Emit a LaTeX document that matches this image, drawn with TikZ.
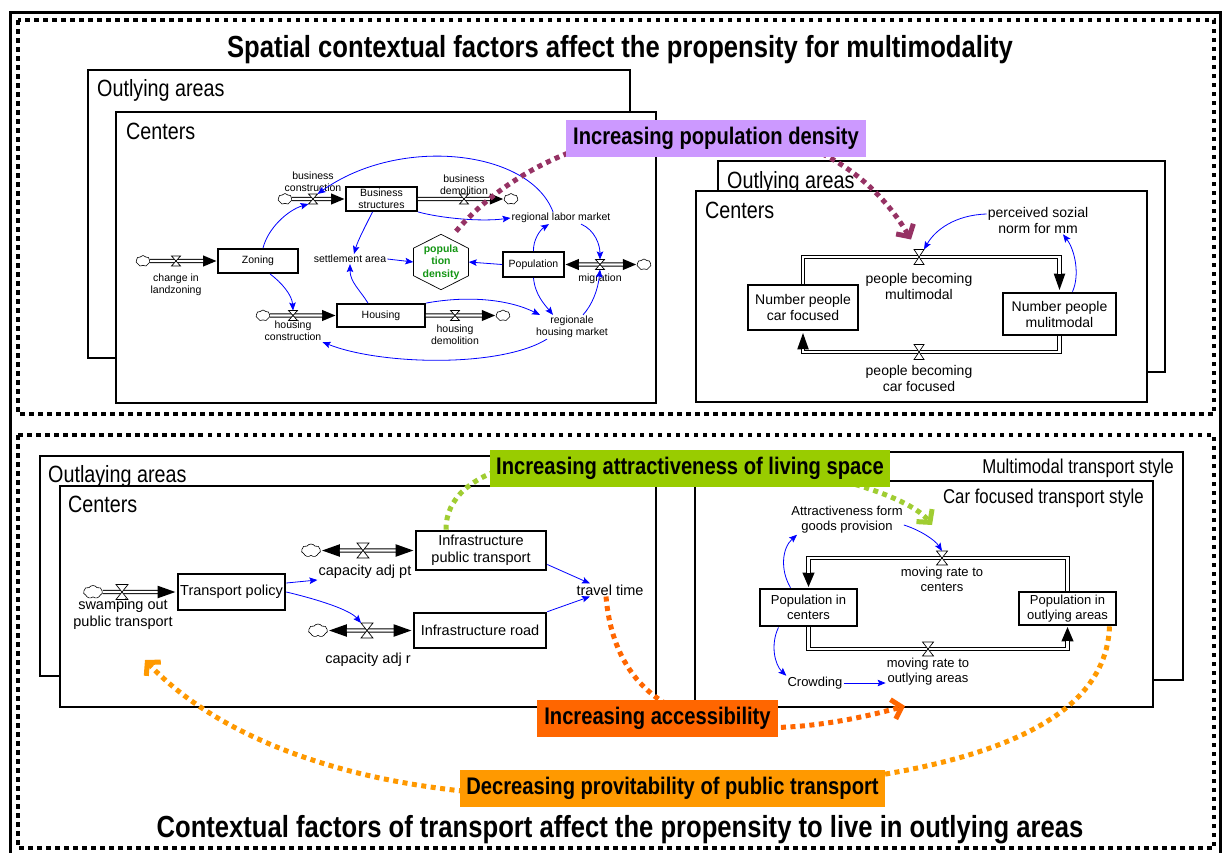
\documentclass[tikz,border=0pt]{standalone}
\usepackage{fontspec}
\setmainfont{Liberation Sans}
\newfontfamily\narrowfont[FakeStretch=0.84]{Liberation Sans}
\usetikzlibrary{arrows.meta,calc,shapes.symbols}

\definecolor{linkblue}{RGB}{0,0,255}
\definecolor{plum}{RGB}{150,50,100}
\definecolor{lilac}{RGB}{204,153,255}
\definecolor{limefill}{RGB}{153,204,0}
\definecolor{limedot}{RGB}{160,205,50}
\definecolor{deeporange}{RGB}{255,102,0}
\definecolor{amber}{RGB}{255,153,0}
\definecolor{densegreen}{RGB}{20,150,20}

% a stock-and-flow pipe: black outer stroke with its tip, white core on top
\newcommand\stockpipe[3]{%
  \draw[pipeout,#1] #3;
  \draw[pipein,#2] #3;}

\tikzset{
  pics/valve/.style 2 args={code={
    \draw[line width=0.7pt, fill=white, line join=miter]
      (-#1,-#2) -- (#1,-#2) -- (-#1,#2) -- (#1,#2) -- cycle;}},
  vnode/.style={inner sep=0pt, outer sep=0pt},
  pipeout/.style={line width=4.4pt, line join=miter, line cap=butt},
  pipein/.style={line width=2.2pt, white, line join=miter, line cap=butt},
  tlhead/.style={-{Triangle[length=14pt,width=10pt]}},
  tlboth/.style={{Triangle[length=14pt,width=10pt]}-{Triangle[length=14pt,width=10pt]}},
  trhead/.style={-{Triangle[length=18pt,width=10pt]}},
  blhead/.style={-{Triangle[length=19pt,width=11pt]}},
  blboth/.style={{Triangle[length=19pt,width=11pt]}-{Triangle[length=19pt,width=11pt]}},
  brhead/.style={-{Triangle[length=15pt,width=11pt]}},
  cloudy/.style={cloud, cloud puffs=7, cloud puff arc=110, aspect=1.3, draw,
    line width=0.6pt, fill=white, inner sep=0pt},
  areabox/.style={draw, line width=1.3pt, fill=white},
  centerbox/.style={draw, line width=2.3pt, fill=white},
  arealabel/.style={anchor=base west, inner sep=0pt,
    font=\narrowfont\fontsize{23.5}{26}\selectfont},
  stylelabel/.style={anchor=base east, inner sep=0pt,
    font=\narrowfont\fontsize{20}{22}\selectfont},
  titletext/.style={anchor=base, inner sep=0pt,
    font=\narrowfont\bfseries\fontsize{30.5}{33}\selectfont},
  hilite/.style={inner sep=0pt, minimum height=37pt,
    font=\narrowfont\bfseries\fontsize{24}{26}\selectfont},
  tlfont/.style={font=\fontsize{10.5}{12}\selectfont, align=center, inner sep=1pt},
  trfont/.style={font=\fontsize{14}{16}\selectfont, align=center, inner sep=1pt},
  blfont/.style={font=\fontsize{14.5}{17}\selectfont, align=center, inner sep=1pt},
  brfont/.style={font=\fontsize{13}{15}\selectfont, align=center, inner sep=1pt},
  tlstock/.style={tlfont, draw, line width=1.8pt, fill=white, inner sep=0pt},
  trstock/.style={trfont, draw, line width=2.8pt, fill=white, inner sep=0pt},
  blstock/.style={blfont, draw, line width=2.6pt, fill=white, inner sep=0pt},
  brstock/.style={brfont, draw, line width=2.8pt, fill=white, inner sep=0pt},
  link/.style={draw=linkblue, line width=0.8pt,
    -{Stealth[length=8pt,width=6.5pt,inset=1.5pt]}},
  bigdots/.style={line width=5pt, dash pattern=on 5pt off 4.5pt,
    -{Straight Barb[length=9pt,width=20pt]}},
  framedots/.style={line width=4.5pt, dash pattern=on 4.5pt off 4.5pt},
}

\begin{document}
\begin{tikzpicture}[x=1pt,y=-1pt]
\useasboundingbox (0,0) rectangle (1223,852);
\fill[white] (0,0) rectangle (1223,852);

% ---------------- frames and titles ----------------
\draw[line width=3pt] (10,12) rectangle (1220.5,856);
\draw[framedots] (18,20) rectangle (1214,414);
\draw[framedots] (18,435) rectangle (1214,848);
\node[titletext] (title1) at (620,57)
  {Spatial contextual factors affect the propensity for multimodality};
\node[titletext] (title2) at (620,837)
  {Contextual factors of transport affect the propensity to live in outlying areas};

% ---------------- area boxes ----------------
\draw[areabox] (88,70) rectangle (630,358);
\node[arealabel] (olA) at (97,96) {Outlying areas};
\draw[centerbox] (116,112) rectangle (656,403);
\node[arealabel] (ceA) at (126,139) {Centers};

\draw[areabox] (718,161) rectangle (1165,372);
\node[arealabel] (olB) at (727,188) {Outlying areas};
\draw[centerbox] (696,191) rectangle (1147,402);
\node[arealabel] (ceB) at (705,218) {Centers};

\draw[areabox] (40,456) rectangle (640,676);
\node[arealabel] (olC) at (48,482) {Outlaying areas};
\draw[centerbox] (60,486) rectangle (656,707);
\node[arealabel] (ceC) at (68,512) {Centers};

\draw[areabox] (720,452) rectangle (1183,680);
\node[stylelabel] (mts) at (1174,473) {Multimodal transport style};
\draw[centerbox] (695,481) rectangle (1153,707);
\node[stylelabel] (cts) at (1144,503) {Car focused transport style};

% ---------------- land use and population model ----------------
\node[tlstock, minimum width=80pt, minimum height=24pt] (zoning) at (258,261) {Zoning};
\node[tlstock, minimum width=71pt, minimum height=24pt] (bstruct) at (381.5,199) {Business\\structures};
\node[tlstock, minimum width=88pt, minimum height=23pt] (housing) at (381,315.5) {Housing};
\node[tlstock, minimum width=61pt, minimum height=25pt] (population) at (533.5,264.5) {Population};

\node[cloudy, minimum width=14pt, minimum height=11pt] (c0) at (143,261) {};
\node[cloudy, minimum width=14pt, minimum height=11pt] (c1) at (285,199) {};
\node[cloudy, minimum width=14pt, minimum height=11pt] (c2) at (511,199) {};
\node[cloudy, minimum width=14pt, minimum height=11pt] (c3) at (263,315.5) {};
\node[cloudy, minimum width=14pt, minimum height=11pt] (c4) at (503,315.5) {};
\node[cloudy, minimum width=14pt, minimum height=11pt] (c5) at (644,264.5) {};

\stockpipe{tlhead}{shorten >=14pt}{(c0.east) -- (zoning.west)}
\stockpipe{tlhead}{shorten >=14pt}{(c1.east) -- (bstruct.west)}
\stockpipe{tlhead}{shorten >=14pt}{(bstruct.east) -- (c2.west)}
\stockpipe{tlhead}{shorten >=14pt}{(c3.east) -- (housing.west)}
\stockpipe{tlhead}{shorten >=14pt}{(housing.east) -- (c4.west)}
\stockpipe{tlboth}{shorten <=14pt, shorten >=14pt}{(population.east) -- (c5.west)}

\node[vnode, minimum width=9pt, minimum height=10pt] (v0) at (176,261) {};
\node[vnode, minimum width=9pt, minimum height=10pt] (v1) at (313,199) {};
\node[vnode, minimum width=9pt, minimum height=10pt] (v2) at (464,199) {};
\node[vnode, minimum width=9pt, minimum height=10pt] (v3) at (293,315.5) {};
\node[vnode, minimum width=9pt, minimum height=10pt] (v4) at (455,315.5) {};
\node[vnode, minimum width=9pt, minimum height=10pt] (v5) at (600,264.5) {};
\foreach \v in {v0,v1,v2,v3,v4,v5} { \pic at (\v) {valve={4.5}{5}}; }

\node[tlfont] (lblcl) at (176,285) {change in\\landzoning};
\node[tlfont] (lblbc) at (313,182) {business\\construction};
\node[tlfont] (lblbd) at (464,185) {business\\demolition};
\node[tlfont] (lblhc) at (293,331) {housing\\construction};
\node[tlfont] (lblhd) at (455,335) {housing\\demolition};
\node[tlfont] (settle) at (350,259) {settlement area};
\node[tlfont] (labor) at (561,218) {regional labor market};
\node[tlfont] (hmarket) at (572,327) {regionale\\housing market};
\node[tlfont] (lblmig) at (600,279) {migration};

\node[tlfont, font=\bfseries\fontsize{10.5}{12.5}\selectfont, text=densegreen,
  minimum width=55pt, minimum height=55pt, inner sep=0pt] (popden) at (441,262)
  {popula\\tion\\density};
\draw[line width=0.7pt] (popden.north) -- ++(27.5,14) -- ++(0,27.5)
  -- (popden.south) -- ++(-27.5,-14) -- ++(0,-27.5) -- cycle;

\draw[link] ([xshift=5pt]zoning.north) .. controls (268,228) and (288,210) .. (v1.south west);
\draw[link] ([xshift=12pt]zoning.south) .. controls (282,283) and (292,295) .. (v3.north);
\draw[link] ([xshift=-8pt]labor.north) .. controls (530,150) and (400,135) .. (v1.north east);
\draw[link] ([xshift=-9pt]bstruct.south) .. controls (366,225) and (358,240) .. ([xshift=4pt]settle.north);
\draw[link] ([xshift=-13pt]housing.north) .. controls (360,290) and (350,282) .. (settle.south);
\draw[link] (settle.east) -- (popden.west);
\draw[link] (population.west) -- (popden.east);
\draw[link] (bstruct.south east) .. controls (440,218) and (480,222) .. (labor.west);
\draw[link] (population.north) .. controls (533,240) and (540,230) .. ([xshift=-12pt]labor.south);
\draw[link] ([xshift=20pt]labor.south) .. controls (595,230) and (600,245) .. (v5.north);
\draw[link] (population.south) .. controls (535,295) and (545,305) .. ([xshift=-19pt]hmarket.north);
\draw[link] ([xshift=11pt]hmarket.north) .. controls (592,305) and (598,290) .. (v5.south);
\draw[link] (housing.north east) .. controls (470,295) and (510,300) .. ([xshift=-32pt]hmarket.north);
\draw[link] ([xshift=-25pt]hmarket.south) .. controls (500,368) and (380,365) .. (lblhc.south east);

% ---------------- multimodality model ----------------
\node[trstock, minimum width=110pt, minimum height=45pt] (cf) at (803,307.5) {Number people\\car focused};
\node[trstock, minimum width=113pt, minimum height=42pt] (mm) at (1059.5,314) {Number people\\mulitmodal};
\node[vnode, minimum width=10pt, minimum height=15pt] (v6) at (919,257) {};
\node[vnode, minimum width=10pt, minimum height=15pt] (v7) at (919,352) {};
\stockpipe{trhead}{shorten >=18pt}{(cf.north) |- (v6.center) -| (mm.north)}
\stockpipe{trhead}{shorten >=18pt}{(mm.south) |- (v7.center) -| (cf.south)}
\pic at (v6) {valve={5}{7.5}};
\pic at (v7) {valve={5}{7.5}};
\node[trfont] (pbm) at (919,286) {people becoming\\multimodal};
\node[trfont] (pbc) at (919,378) {people becoming\\car focused};
\node[trfont] (norm) at (1038,220) {perceived sozial\\norm for mm};
\draw[link] ([yshift=6pt]norm.west) .. controls (955,215) and (935,230) .. (v6.north east);
\draw[link] ([xshift=13pt]mm.north) .. controls (1080,275) and (1075,250) .. ([xshift=25pt]norm.south);

% ---------------- transport policy model ----------------
\node[blstock, minimum width=107pt, minimum height=36pt] (tpol) at (231.5,592) {Transport policy};
\node[blstock, minimum width=130pt, minimum height=39pt] (ipt) at (481,550.5) {Infrastructure\\public transport};
\node[blstock, minimum width=132pt, minimum height=35pt] (iroad) at (480,630.5) {Infrastructure road};
\node[cloudy, minimum width=19pt, minimum height=13pt] (c6) at (93,592) {};
\node[cloudy, minimum width=19pt, minimum height=13pt] (c7) at (311,550.5) {};
\node[cloudy, minimum width=19pt, minimum height=13pt] (c8) at (318,630.5) {};
\stockpipe{blhead}{shorten >=19pt}{(c6.east) -- (tpol.west)}
\stockpipe{blboth}{shorten <=19pt, shorten >=19pt}{(c7.east) -- (ipt.west)}
\stockpipe{blboth}{shorten <=19pt, shorten >=19pt}{(c8.east) -- (iroad.west)}
\node[vnode, minimum width=12pt, minimum height=15pt] (v8) at (122,592) {};
\node[vnode, minimum width=12pt, minimum height=15pt] (v9) at (363,550.5) {};
\node[vnode, minimum width=12pt, minimum height=15pt] (v10) at (367,630.5) {};
\foreach \v in {v8,v9,v10} { \pic at (\v) {valve={6}{7.5}}; }
\node[blfont] (lblsw) at (123,614) {swamping out\\public transport};
\node[blfont] (capt) at (365,572) {capacity adj pt};
\node[blfont] (capr) at (368,660) {capacity adj r};
\node[blfont] (ttime) at (610,590) {travel time};
\draw[link] ([yshift=9pt]tpol.east) -- (capt.south west);
\draw[link] (tpol.east) .. controls (320,600) and (350,610) .. (v10.north west);
\draw[link] ([yshift=-14pt]ipt.east) -- ([xshift=-20pt]ttime.north);
\draw[link] (iroad.north east) -- ([xshift=-20pt]ttime.south);

% ---------------- residential location model ----------------
\node[brstock, minimum width=97pt, minimum height=37pt] (pc) at (808.5,607.5) {Population in\\centers};
\node[brstock, minimum width=97pt, minimum height=33pt] (po) at (1067.5,608.5) {Population in\\outlying areas};
\node[vnode, minimum width=11pt, minimum height=14pt] (v11) at (942,558) {};
\node[vnode, minimum width=11pt, minimum height=14pt] (v12) at (928,649) {};
\stockpipe{brhead}{shorten >=15pt}{(po.north) |- (v11.center) -| (pc.north)}
\stockpipe{brhead}{shorten >=15pt}{(pc.south) |- (v12.center) -| (po.south)}
\pic at (v11) {valve={5.5}{7}};
\pic at (v12) {valve={5.5}{7}};
\node[brfont] (mrc) at (942,579) {moving rate to\\centers};
\node[brfont] (mro) at (928,672) {moving rate to\\outlying areas};
\node[brfont] (attr) at (847,520) {Attractiveness form\\goods provision};
\node[brfont] (crowd) at (815,683) {Crowding};
\draw[link] ([xshift=-18pt]pc.north) .. controls (780,570) and (782,548) .. ([xshift=-50pt]attr.south);
\draw[link] ([yshift=-5pt]attr.east) .. controls (920,530) and (935,540) .. (v11.north);
\draw[link] ([xshift=-30pt]pc.south) .. controls (770,645) and (775,665) .. (crowd.north west);
\draw[link] (crowd.east) -- (crowd.east -| mro.west);

% ---------------- cross-effects ----------------
\draw[bigdots, plum] ([shift={(15pt,3pt)}]popden.north)
  .. controls (500,180) and (580,130) .. (700,128)
  .. controls (800,126) and (870,170) .. ([shift={(-8pt,10pt)}]v6.north);
\draw[bigdots, limedot] ([xshift=-35pt]ipt.north)
  .. controls (445,400) and (880,460) .. (932,525);
\draw[bigdots, deeporange] ([xshift=-4pt]ttime.south)
  .. controls (620,760) and (800,735) .. (905,706);
\draw[bigdots, amber] ([xshift=42pt]po.south)
  .. controls (1105,750) and (900,790) .. (620,795)
  .. controls (420,805) and (240,760) .. (145,660);

\node[hilite, fill=lilac, minimum width=300pt] (hlA) at (716,138.5) {Increasing population density};
\node[hilite, fill=limefill, minimum width=400pt] (hlB) at (690,468.5) {Increasing attractiveness of living space};
\node[hilite, fill=deeporange, minimum width=241pt] (hlC) at (657.5,718.5) {Increasing accessibility};
\node[hilite, fill=amber, minimum width=425pt] (hlD) at (672.5,788.5) {Decreasing provitability of public transport};
\end{tikzpicture}
\end{document}
